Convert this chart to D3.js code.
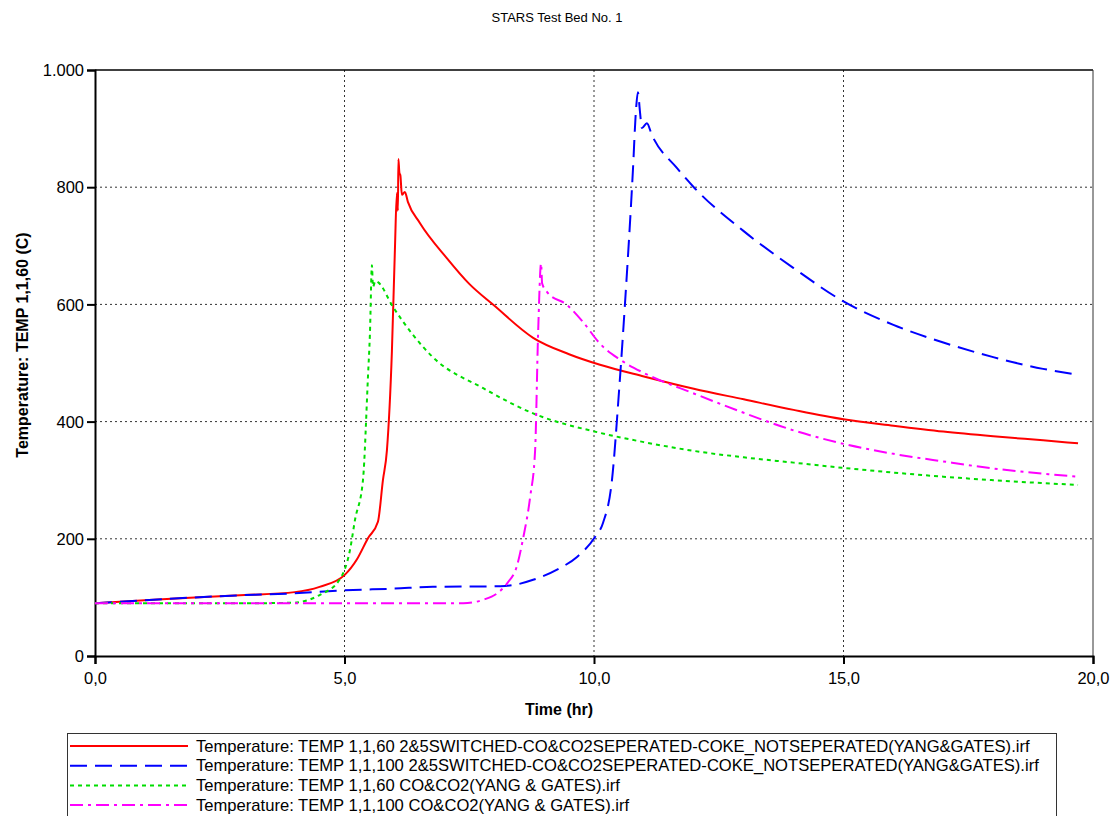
<!DOCTYPE html>
<html>
<head>
<meta charset="utf-8">
<script src="https://cdn.jsdelivr.net/npm/d3@7"></script>
<style>
  body { margin: 0; background: #fff; }
  text { font-family: "Liberation Sans", Arial, sans-serif; fill: #000; }
</style>
</head>
<body>
<div id="chart"></div>
<script>
// data
var xTicks = [0, 5, 10, 15, 20];
var yTicks = [0, 200, 400, 600, 800, 1000];

var redT = [0, 1, 2, 3, 4, 4.5, 5, 5.25, 5.47, 5.67, 5.77, 5.85, 5.95, 6.01, 6.05, 6.07, 6.08, 6.10, 6.12, 6.15, 6.21, 6.27, 6.51, 7.05, 7.5, 8, 8.78, 9.5, 10.12, 11, 12, 13, 14, 15, 16, 17, 18, 19, 19.7];
var redV = [90, 95, 100, 104, 109, 118, 138, 165, 201, 229, 300, 351, 520, 693, 790, 760, 848, 825, 820, 787, 792, 775, 739, 679, 635, 598, 543, 515, 497, 477, 456, 438, 420, 404, 393, 383, 375, 368, 363];

var blueT = [0, 1, 2, 3, 4, 5, 6, 6.77, 8.12, 8.5, 8.78, 9.32, 9.66, 10.02, 10.18, 10.36, 10.5, 10.62, 10.78, 10.84, 10.88, 10.92, 10.96, 11.06, 11.16, 11.66, 12, 13, 14, 15, 16, 17, 18, 19, 19.7];
var blueV = [90, 95, 100, 104, 107, 112, 115, 118, 119, 123, 130, 150, 169, 203, 227, 300, 450, 600, 829, 930, 962, 930, 901, 909, 889, 833, 800, 725, 662, 605, 565, 535, 510, 490, 480];

var greenT = [0, 1, 2, 3, 4, 4.1, 4.5, 4.9, 5.11, 5.21, 5.37, 5.47, 5.51, 5.55, 5.57, 5.62, 5.67, 5.97, 6.77, 7.78, 8.78, 10.06, 11, 12, 13, 14, 15, 16, 17, 18, 19, 19.7];
var greenV = [90, 90, 90, 90, 91, 92, 104, 130, 181, 232, 300, 476, 551, 667, 630, 640, 638, 596, 510, 457, 414, 382, 365, 350, 339, 330, 321, 313, 306, 300, 295, 292];

var magT = [0, 2, 4, 6, 7, 7.38, 7.78, 8.06, 8.26, 8.46, 8.58, 8.72, 8.82, 8.88, 8.94, 8.96, 9.06, 9.46, 9.78, 10.12, 10.5, 11, 12, 13, 14, 15, 16, 17, 18, 19, 19.7];
var magV = [90, 90, 90, 90, 90, 90, 96, 107, 124, 155, 201, 271, 351, 551, 670, 636, 621, 599, 570, 533, 507, 483, 448, 415, 385, 362, 345, 332, 320, 311, 306];

var seriesNames = [
    'Temperature: TEMP 1,1,60 2&5SWITCHED-CO&CO2SEPERATED-COKE_NOTSEPERATED(YANG&GATES).irf',
    'Temperature: TEMP 1,1,100 2&5SWITCHED-CO&CO2SEPERATED-COKE_NOTSEPERATED(YANG&GATES).irf',
    'Temperature: TEMP 1,1,60 CO&CO2(YANG & GATES).irf',
    'Temperature: TEMP 1,1,100 CO&CO2(YANG & GATES).irf'
];

var series = [
    { t: redT, v: redV, color: '#ff0000', dash: null },
    { t: blueT, v: blueV, color: '#0000ff', dash: '17,8' },
    { t: greenT, v: greenV, color: '#00dd00', dash: '4,4' },
    { t: magT, v: magV, color: '#ff00ff', dash: '13,5,3,5' }
];

var W = 1115, H = 816;
var pLeft = 95, pRight = 1093, pTop = 70, pBottom = 656;

var svg = d3.select('#chart').append('svg').attr('width', W).attr('height', H);

var x = d3.scaleLinear().domain([0, 20]).range([pLeft, pRight]);
var y = d3.scaleLinear().domain([0, 1000]).range([pBottom, pTop]);

// title
svg.append('text').attr('x', 557).attr('y', 22).attr('text-anchor', 'middle')
    .style('font-size', '13px').text('STARS Test Bed No. 1');

// grid
svg.append('g').selectAll('line').data(xTicks.slice(1, -1)).enter().append('line')
    .attr('x1', d => x(d)).attr('x2', d => x(d)).attr('y1', pTop).attr('y2', pBottom)
    .attr('stroke', '#333').attr('stroke-width', 1).attr('stroke-dasharray', '2,3');
svg.append('g').selectAll('line').data(yTicks.slice(1, -1)).enter().append('line')
    .attr('x1', pLeft).attr('x2', pRight).attr('y1', d => y(d)).attr('y2', d => y(d))
    .attr('stroke', '#333').attr('stroke-width', 1).attr('stroke-dasharray', '2,3');

// frame top / right
svg.append('line').attr('x1', pLeft).attr('x2', pRight).attr('y1', pTop).attr('y2', pTop)
    .attr('stroke', '#000').attr('stroke-width', 1.5);
svg.append('line').attr('x1', pRight).attr('x2', pRight).attr('y1', pTop).attr('y2', pBottom)
    .attr('stroke', '#333').attr('stroke-width', 1);

// axes
var xAxis = d3.axisBottom(x).tickValues(xTicks).tickSize(8).tickPadding(8)
    .tickFormat(d => d3.format('.1f')(d).replace('.', ','));
var yAxis = d3.axisLeft(y).tickValues(yTicks).tickSize(8).tickPadding(3)
    .tickFormat(d => d === 1000 ? '1.000' : d);

var gx = svg.append('g').attr('transform', 'translate(0,' + pBottom + ')').call(xAxis);
var gy = svg.append('g').attr('transform', 'translate(' + pLeft + ',0)').call(yAxis);
[gx, gy].forEach(function (g) {
    g.selectAll('path').attr('stroke', '#000').attr('stroke-width', 2);
    g.selectAll('line').attr('stroke', '#000').attr('stroke-width', 2);
    g.selectAll('text').style('font-size', '16.5px').style('font-family', '"Liberation Sans", Arial, sans-serif').attr('fill', '#000');
});
gy.selectAll('text').attr('dy', '0.35em');

// axis labels
svg.append('text').attr('x', 559).attr('y', 715).attr('text-anchor', 'middle')
    .style('font-size', '16px').style('font-weight', 'bold').text('Time (hr)');
svg.append('text').attr('transform', 'translate(28,345) rotate(-90)').attr('text-anchor', 'middle')
    .style('font-size', '16px').style('font-weight', 'bold').text('Temperature: TEMP 1,1,60 (C)');

// lines
var line = d3.line().x(d => x(d[0])).y(d => y(d[1])).curve(d3.curveMonotoneX);
series.forEach(function (s) {
    var pts = s.t.map((t, i) => [t, s.v[i]]);
    svg.append('path').datum(pts).attr('d', line)
        .attr('fill', 'none').attr('stroke', s.color).attr('stroke-width', 2)
        .attr('stroke-linejoin', 'round')
        .attr('stroke-dasharray', s.dash);
});

// legend
var lg = svg.append('g');
lg.append('rect').attr('x', 67.5).attr('y', 733.5).attr('width', 989).attr('height', 90)
    .attr('fill', 'none').attr('stroke', '#333').attr('stroke-width', 1);
series.forEach(function (s, i) {
    var ly = 746 + i * 19.7;
    lg.append('line').attr('x1', 70).attr('x2', 188).attr('y1', ly).attr('y2', ly)
        .attr('stroke', s.color).attr('stroke-width', 2).attr('stroke-dasharray', s.dash);
    lg.append('text').attr('x', 196).attr('y', ly + 5.5).style('font-size', '16.6px').text(seriesNames[i]);
});
</script>
</body>
</html>
